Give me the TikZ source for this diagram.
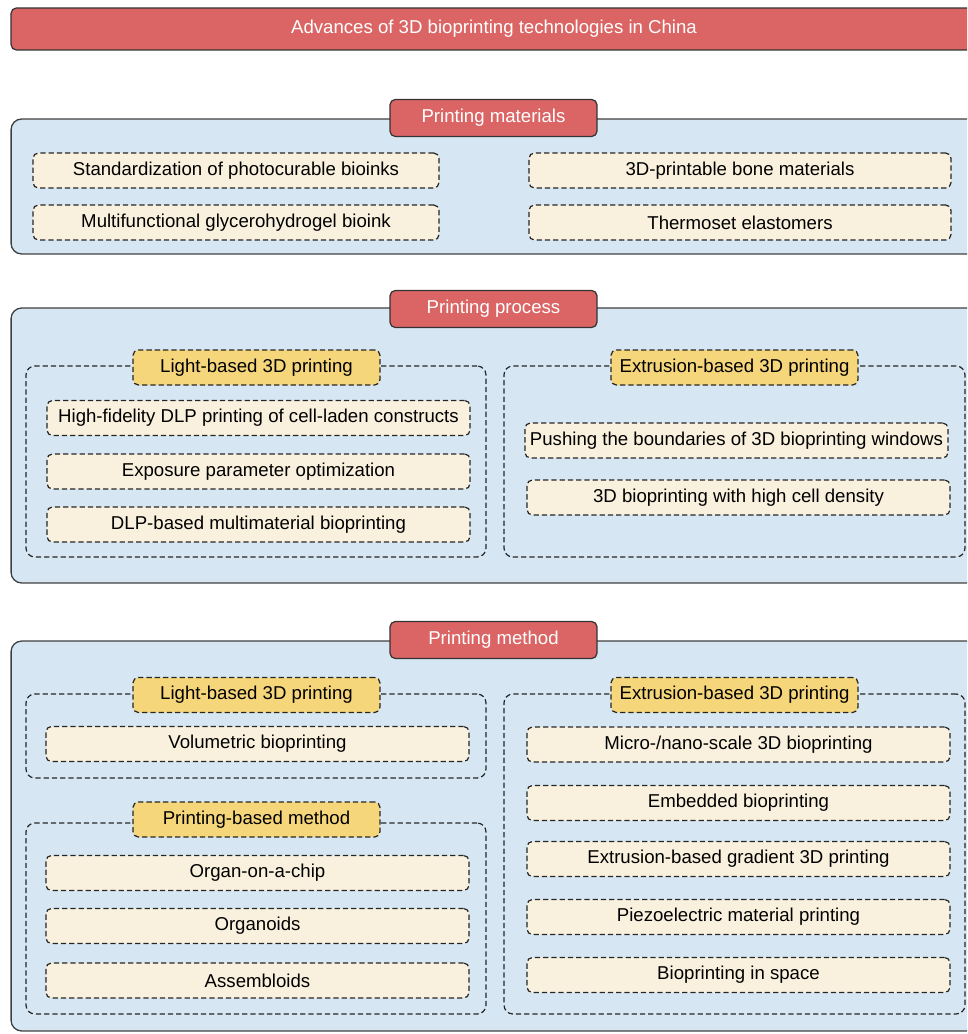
\documentclass[tikz,border=0pt]{standalone}
\usepackage{fontspec}
\setmainfont{Liberation Sans}
\definecolor{headred}{RGB}{219,101,101}
\definecolor{panelblue}{RGB}{214,231,243}
\definecolor{itemcream}{RGB}{249,241,221}
\definecolor{headyellow}{RGB}{246,214,122}

\begin{document}
\begin{tikzpicture}[x=0.02cm,y=-0.02cm,font=\fontsize{10.6}{12}\selectfont]
  \clip (0,0) rectangle (967,1034);

  \tikzstyle{titlebar}=[draw=black!80,fill=headred,text=white,rounded corners=3pt,line width=0.7pt,inner sep=0pt]
  \tikzstyle{secbox}=[draw=black!75,fill=panelblue,rounded corners=6pt,line width=0.75pt,inner sep=0pt]
  \tikzstyle{sechead}=[titlebar,minimum width=4.14cm,minimum height=0.74cm]
  \tikzstyle{grpbox}=[draw=black!85,dash pattern=on 3pt off 1.7pt,rounded corners=5pt,line width=0.7pt,inner sep=0pt]
  \tikzstyle{grphead}=[grpbox,fill=headyellow,rounded corners=3pt,minimum width=4.94cm,minimum height=0.7cm]
  \tikzstyle{itembox}=[grpbox,fill=itemcream,rounded corners=3pt,minimum height=0.7cm]

  \node[titlebar,minimum width=19.32cm,minimum height=0.84cm] (title) at (494,29)
    {Advances of 3D bioprinting technologies in China};

  % printing materials
  \node[secbox,minimum width=19.78cm,minimum height=2.7cm] (matbox) at (505.5,186.5) {};
  \node[sechead] (mathead) at (493.5,118) {Printing materials};
  \node[itembox,minimum width=8.12cm] (mat1) at (236,170.5) {Standardization of photocurable bioinks};
  \node[itembox,minimum width=8.12cm] (mat2) at (236,222.5) {Multifunctional glycerohydrogel bioink};
  \node[itembox,minimum width=8.44cm] (mat3) at (740,170.5) {3D-printable bone materials};
  \node[itembox,minimum width=8.44cm] (mat4) at (740,222.5) {Thermoset elastomers};

  % printing process
  \node[secbox,minimum width=19.78cm,minimum height=5.5cm] (procbox) at (505.5,445.5) {};
  \node[sechead] (prochead) at (493.5,309) {Printing process};
  \node[grpbox,minimum width=9.2cm,minimum height=3.82cm] (proclight) at (256,461.5) {};
  \node[grpbox,minimum width=9.22cm,minimum height=3.82cm] (procextr) at (734.5,461.5) {};
  \node[grphead] (proclighthead) at (256.5,367.5) {Light-based 3D printing};
  \node[grphead] (procextrhead) at (734.5,367.5) {Extrusion-based 3D printing};
  \node[itembox,minimum width=8.46cm] (proc1) at (258.5,418) {High-fidelity DLP printing of cell-laden constructs};
  \node[itembox,minimum width=8.46cm] (proc2) at (258.5,471.5) {Exposure parameter optimization};
  \node[itembox,minimum width=8.46cm] (proc3) at (258.5,524.5) {DLP-based multimaterial bioprinting};
  \node[itembox,minimum width=8.46cm] (proc4) at (736.5,440.5) {Pushing the boundaries of 3D bioprinting windows};
  \node[itembox,minimum width=8.46cm] (proc5) at (738.5,497.5) {3D bioprinting with high cell density};

  % printing method
  \node[secbox,minimum width=19.78cm,minimum height=7.8cm] (methbox) at (505.5,836) {};
  \node[sechead] (methhead) at (493.5,640) {Printing method};
  \node[grpbox,minimum width=9.2cm,minimum height=1.68cm] (methlight) at (256,736) {};
  \node[grpbox,minimum width=9.2cm,minimum height=3.82cm] (methprint) at (256,918.5) {};
  \node[grpbox,minimum width=9.22cm,minimum height=6.4cm] (methextr) at (734.5,854) {};
  \node[grphead] (methlighthead) at (256.5,695) {Light-based 3D printing};
  \node[grphead] (methprinthead) at (256.5,819.5) {Printing-based method};
  \node[grphead] (methextrhead) at (734.5,695) {Extrusion-based 3D printing};
  \node[itembox,minimum width=8.46cm] (meth1) at (257.5,744) {Volumetric bioprinting};
  \node[itembox,minimum width=8.46cm] (meth2) at (257.5,873) {Organ-on-a-chip};
  \node[itembox,minimum width=8.46cm] (meth3) at (257.5,926) {Organoids};
  \node[itembox,minimum width=8.46cm] (meth4) at (257.5,980.5) {Assembloids};
  \node[itembox,minimum width=8.46cm] (meth5) at (738.5,744.5) {Micro-/nano-scale 3D bioprinting};
  \node[itembox,minimum width=8.46cm] (meth6) at (738.5,803) {Embedded bioprinting};
  \node[itembox,minimum width=8.46cm] (meth7) at (738.5,859) {Extrusion-based gradient 3D printing};
  \node[itembox,minimum width=8.46cm] (meth8) at (738.5,917) {Piezoelectric material printing};
  \node[itembox,minimum width=8.46cm] (meth9) at (738.5,975) {Bioprinting in space};

\end{tikzpicture}
\end{document}
